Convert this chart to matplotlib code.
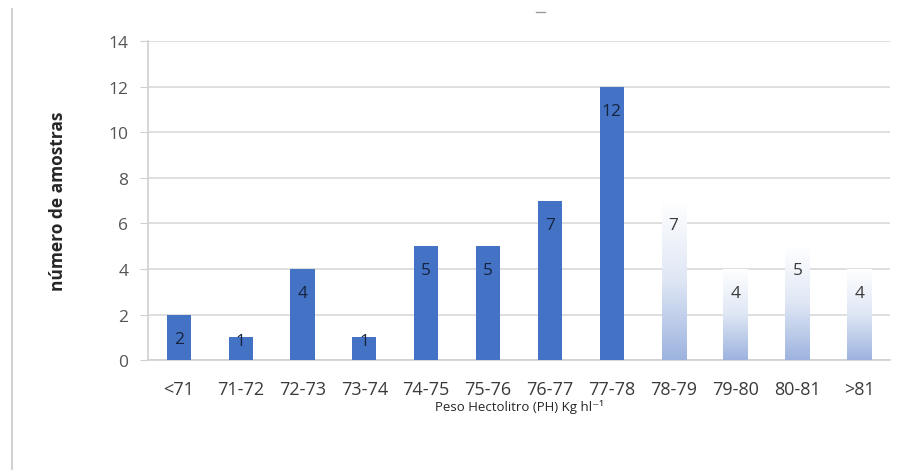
import numpy as np
import matplotlib
matplotlib.use("Agg")
import matplotlib.pyplot as plt
from matplotlib.lines import Line2D
from matplotlib.colors import LinearSegmentedColormap

categories = ["<71", "71-72", "72-73", "73-74", "74-75", "75-76", "76-77",
              "77-78", "78-79", "79-80", "80-81", ">81"]
counts = [2, 1, 4, 1, 5, 5, 7, 12, 7, 4, 5, 4]
# classes drawn with a faded gradient fill
faded = [False] * 8 + [True] * 4

plt.rcParams["font.family"] = ["Open Sans", "DejaVu Sans"]

fig = plt.figure(figsize=(9.01, 4.77), dpi=100)
ax = fig.add_axes([0.164, 0.243, 0.824, 0.669])

x = np.arange(len(categories))
solid_color = "#4472C4"
grad_cmap = LinearSegmentedColormap.from_list("fade", ["#ffffff", "#dfe7f5", "#9db3df"])

bars = ax.bar(x, counts, width=0.39, color=solid_color, zorder=3)
for bar, is_faded in zip(bars, faded):
    if is_faded:
        bar.set_facecolor("none")
        x0, y0 = bar.get_x(), bar.get_y()
        w, h = bar.get_width(), bar.get_height()
        grad = np.linspace(0, 1, 256).reshape(-1, 1)
        im = ax.imshow(grad, cmap=grad_cmap, aspect="auto", origin="upper",
                       extent=[x0, x0 + w, y0, y0 + h], zorder=3)
        im.set_clip_path(bar)

ax.set_xlim(-0.5, len(categories) - 0.5)
ax.set_ylim(0, 14)
ax.set_yticks(range(0, 15, 2))
ax.set_xticks(x)
ax.set_xticklabels(categories)

# value labels just inside the top of each bar (shallower for short bars)
fig.canvas.draw()
px_per_unit = (ax.transData.transform((0, 1))[1] - ax.transData.transform((0, 0))[1])
for xi, v, is_faded in zip(x, counts, faded):
    off = min(24.0, v * px_per_unit - 19.5)
    ax.annotate(str(v), (xi, v), xytext=(0, -off), textcoords="offset pixels",
                ha="center", va="center", fontsize=12.5,
                color="#3a3a3a" if is_faded else "#16243f", zorder=4)

ax.grid(axis="y", color="#d9d9d9", linewidth=1.2, zorder=0)
for side in ["top", "right"]:
    ax.spines[side].set_visible(False)
ax.spines["left"].set_color("#d0d0d0")
ax.spines["bottom"].set_color("#d0d0d0")
ax.spines["left"].set_linewidth(1.2)
ax.spines["bottom"].set_linewidth(1.2)
ax.tick_params(axis="y", length=6, color="#d0d0d0", labelsize=12.5,
               labelcolor="#555555", pad=8)
ax.tick_params(axis="x", length=0, labelsize=13, labelcolor="#3a3a3a", pad=14)

ax.set_ylabel("número de amostras", fontsize=12.5, fontweight="bold",
              color="#262626", labelpad=30)
ax.set_xlabel("Peso Hectolitro (PH) Kg hl⁻¹", fontsize=9.5, color="#262626",
              labelpad=1)

# page edge line and small mark above the chart
fig.add_artist(Line2D([0.0135, 0.0135], [0.015, 0.98], color="#c8c8c8",
                      linewidth=1.2, transform=fig.transFigure))
fig.add_artist(Line2D([0.595, 0.605], [0.972, 0.972], color="#9a9a9a",
                      linewidth=1.0, transform=fig.transFigure))

fig.savefig("out.png", dpi=100, facecolor="white")
